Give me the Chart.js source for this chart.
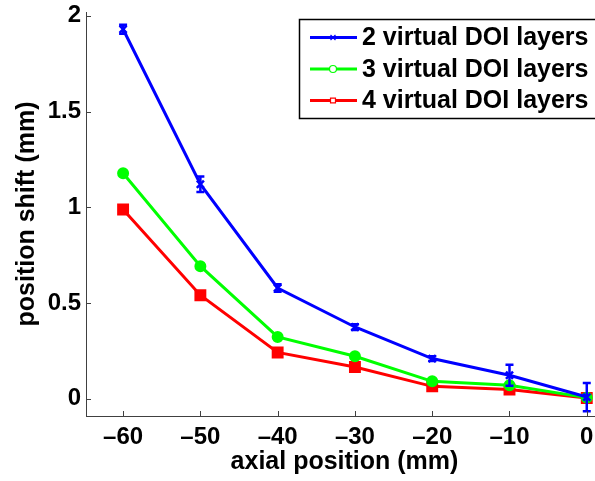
<!DOCTYPE html>
<html>
<head>
<meta charset="utf-8">
<script src="https://cdn.jsdelivr.net/npm/chart.js@4.4.1/dist/chart.umd.min.js"></script>
<style>
  html, body { margin: 0; padding: 0; background: #fff; overflow: hidden; }
  #frame { width: 595px; height: 481px; overflow: hidden; }
</style>
</head>
<body>
<div id="frame"><canvas id="shift-chart" width="612" height="481"></canvas></div>
<script>
// axial position of the source (mm)
const positions = [-60, -50, -40, -30, -20, -10, 0];

// mean position shift (mm) per number of virtual DOI layers
const shift2 = [1.93, 1.12, 0.578, 0.374, 0.209, 0.122, 0.008];
const shift3 = [1.177, 0.692, 0.322, 0.221, 0.09, 0.07, 0.005];
const shift4 = [0.988, 0.540, 0.241, 0.165, 0.064, 0.047, 0.003];

// standard deviation for the 2-layer case
const err2 = [0.024, 0.04, 0.02, 0.015, 0.012, 0.055, 0.074];

const seriesLabels = ["2 virtual DOI layers", "3 virtual DOI layers", "4 virtual DOI layers"];
const xTickValues = [-60, -50, -40, -30, -20, -10, 0];
const xTickLabels = ["\u201360", "\u201350", "\u201340", "\u201330", "\u201320", "\u201310", "0"];
const yTickValues = [0, 0.5, 1, 1.5, 2];
const yTickLabels = ["0", "0.5", "1", "1.5", "2"];

const FONT = "'Liberation Sans', Arial, Helvetica, sans-serif";
const AXIS_COLOR = "#404040";

function points(ys) {
  return positions.map((x, i) => ({ x: x, y: ys[i] }));
}

// error bars, inward ticks and the boxed legend
const extras = {
  id: "extras",
  afterDatasetsDraw(chart) {
    const ctx = chart.ctx;
    const xs = chart.scales.x;
    const ys = chart.scales.y;
    ctx.save();
    ctx.strokeStyle = "#0000ff";
    ctx.lineWidth = 2.5;
    positions.forEach((p, i) => {
      const px = xs.getPixelForValue(p);
      const top = ys.getPixelForValue(shift2[i] + err2[i]);
      const bot = ys.getPixelForValue(shift2[i] - err2[i]);
      ctx.beginPath();
      ctx.moveTo(px, top); ctx.lineTo(px, bot);
      ctx.moveTo(px - 4, top); ctx.lineTo(px + 4, top);
      ctx.moveTo(px - 4, bot); ctx.lineTo(px + 4, bot);
      ctx.stroke();
    });

    // tick marks point into the plot
    const area = chart.chartArea;
    ctx.strokeStyle = AXIS_COLOR;
    ctx.lineWidth = 1;
    ctx.beginPath();
    xTickValues.forEach((v) => {
      const px = Math.round(xs.getPixelForValue(v)) + 0.5;
      ctx.moveTo(px, area.bottom); ctx.lineTo(px, area.bottom - 5);
    });
    yTickValues.forEach((v) => {
      const py = Math.round(ys.getPixelForValue(v)) + 0.5;
      ctx.moveTo(area.left, py); ctx.lineTo(area.left + 5, py);
    });
    ctx.stroke();
    ctx.restore();
  },
  afterDraw(chart) {
    const ctx = chart.ctx;
    const bx = 299.5, by = 19.5, bw = 312, bh = 99;
    ctx.save();
    ctx.fillStyle = "#fff";
    ctx.fillRect(bx, by, bw, bh);
    ctx.strokeStyle = "#000";
    ctx.lineWidth = 1.5;
    ctx.strokeRect(bx, by, bw, bh);

    chart.data.datasets.forEach((ds, i) => {
      const ly = by + 18 + i * 31.5;
      ctx.strokeStyle = ds.borderColor;
      ctx.lineWidth = 3;
      ctx.beginPath();
      ctx.moveTo(310, ly); ctx.lineTo(357, ly);
      ctx.stroke();
      ctx.lineWidth = 1.2;
      ctx.fillStyle = "#fff";
      Chart.helpers.drawPoint(ctx, {
        pointStyle: ds.pointStyle, radius: 3.5, borderWidth: 1.2, rotation: 0
      }, 333, ly);
      ctx.fillStyle = "#000";
      ctx.font = "bold 25px " + FONT;
      ctx.textBaseline = "middle";
      ctx.textAlign = "left";
      ctx.fillText(ds.label, 362, ly + 1);
    });
    ctx.restore();
  }
};

const ctx = document.getElementById("shift-chart").getContext("2d");
const chart = new Chart(ctx, {
  type: "line",
  data: {
    datasets: [
      {
        label: seriesLabels[0],
        data: points(shift2),
        borderColor: "#0000ff",
        backgroundColor: "#0000ff",
        borderWidth: 3,
        pointStyle: "crossRot",
        pointRadius: 5,
        pointBorderWidth: 2.5,
      },
      {
        label: seriesLabels[1],
        data: points(shift3),
        borderColor: "#00ff00",
        backgroundColor: "#00ff00",
        borderWidth: 3,
        pointStyle: "circle",
        pointRadius: 5,
        pointBorderWidth: 2,
      },
      {
        label: seriesLabels[2],
        data: points(shift4),
        borderColor: "#ff0000",
        backgroundColor: "#ff0000",
        borderWidth: 3,
        pointStyle: "rect",
        pointRadius: 7,
        pointBorderWidth: 2,
      },
    ],
  },
  options: {
    responsive: false,
    animation: false,
    layout: { padding: { top: 12, right: 8, left: 0, bottom: 0 } },
    plugins: {
      legend: { display: false },
      tooltip: { enabled: false },
    },
    scales: {
      x: {
        type: "linear",
        min: -64.8,
        max: 2.1,
        grid: { display: false, drawTicks: false },
        border: { display: true, color: AXIS_COLOR, width: 1 },
        afterBuildTicks: (s) => { s.ticks = xTickValues.map((v) => ({ value: v })); },
        afterFit: (s) => { s.height = 65; s.paddingLeft = 0; s.paddingRight = 0; },
        ticks: {
          autoSkip: false,
          maxRotation: 0,
          padding: 7,
          color: "#000",
          font: { family: FONT, size: 24, weight: "bold" },
          callback: (v) => xTickLabels[xTickValues.indexOf(v)],
        },
        title: {
          display: true,
          text: "axial position (mm)",
          color: "#000",
          font: { family: FONT, size: 25, weight: "bold" },
          padding: { top: 0, bottom: 4 },
        },
      },
      y: {
        type: "linear",
        min: -0.091,
        max: 2.02,
        grid: { display: false, drawTicks: false },
        border: { display: true, color: AXIS_COLOR, width: 1 },
        afterBuildTicks: (s) => { s.ticks = yTickValues.map((v) => ({ value: v })); },
        afterFit: (s) => { s.width = 86; s.paddingTop = 0; s.paddingBottom = 0; },
        ticks: {
          padding: 5,
          color: "#000",
          font: { family: FONT, size: 24, weight: "bold" },
          callback: (v) => yTickLabels[yTickValues.indexOf(v)],
        },
        title: {
          display: true,
          text: "position shift (mm)",
          color: "#000",
          font: { family: FONT, size: 25, weight: "bold" },
          padding: { top: 12, bottom: 0 },
        },
      },
    },
  },
  plugins: [extras],
});
</script>
</body>
</html>
